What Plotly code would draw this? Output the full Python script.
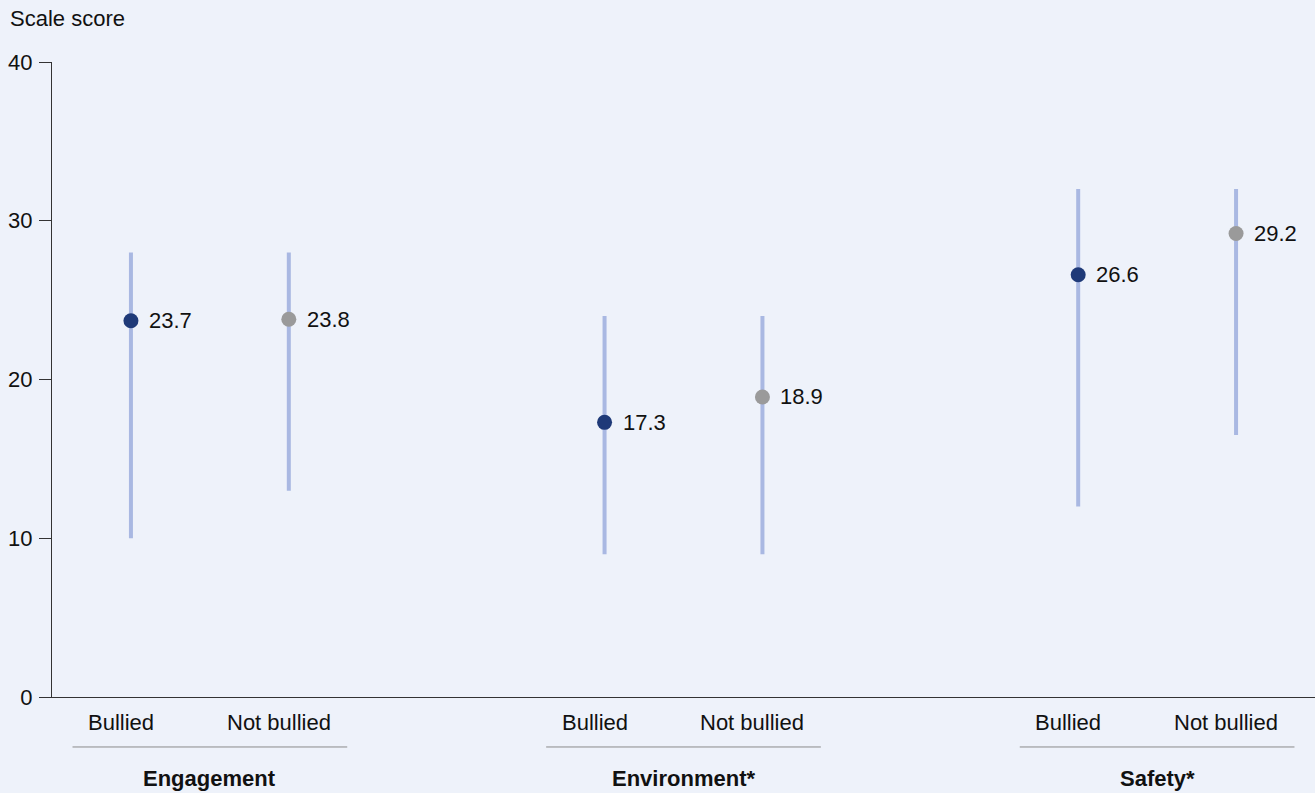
import plotly.graph_objects as go

# Scale score by bullying status, with ranges
groups = ["Engagement", "Environment*", "Safety*"]
statuses = ["Bullied", "Not bullied"]
positions = [0, 1, 3, 4, 6, 7]
status_labels = ["Bullied", "Not bullied"] * 3

means = [23.7, 23.8, 17.3, 18.9, 26.6, 29.2]
lows = [10, 13, 9, 9, 12, 16.5]
highs = [28, 28, 24, 24, 32, 32]

y_ticks = [0, 10, 20, 30, 40]

BG = "#EEF2FA"
NAVY = "#1F3A78"
GREY = "#9A9A9A"
RANGE = "#A9B8E2"
INK = "#111111"
FONT = "Liberation Sans, Arial, sans-serif"
FS = 22

fig = go.Figure()

for k, status in enumerate(statuses):
    idx = [i for i in range(len(positions)) if i % 2 == k]
    xs = [positions[i] for i in idx]
    ys = [means[i] for i in idx]
    up = [highs[i] - means[i] for i in idx]
    down = [means[i] - lows[i] for i in idx]
    fig.add_trace(go.Scatter(
        x=xs, y=ys,
        mode="markers",
        name=status,
        marker=dict(size=15, color=NAVY if k == 0 else GREY),
        error_y=dict(type="data", symmetric=False, array=up, arrayminus=down,
                     color=RANGE, thickness=4, width=0),
        cliponaxis=False,
        showlegend=False,
    ))

# Value labels to the right of each marker
for x, v in zip(positions, means):
    fig.add_annotation(x=x, y=v, xref="x", yref="y", text=f"{v:.1f}",
                       showarrow=False, xanchor="left", yanchor="middle",
                       xshift=16, font=dict(size=FS, color=INK, family=FONT))

# Category labels under the axis
for x, lab in zip(positions, status_labels):
    fig.add_annotation(x=x, y=-(722 - 697) / 635, xref="x", yref="paper", text=lab,
                       showarrow=False, xanchor="center", yanchor="middle",
                       xshift=-10, font=dict(size=FS, color=INK, family=FONT))

# Group labels and underlines beneath the category labels
for g, name in enumerate(groups):
    left = positions[2 * g]
    right = positions[2 * g + 1]
    fig.add_shape(type="line", xref="x", yref="paper",
                  x0=left - 0.37, x1=right + 0.37, y0=-0.0787, y1=-0.0787,
                  line=dict(color="#8A8A8A", width=1))
    fig.add_annotation(x=(left + right) / 2, y=-0.1276, xref="x", yref="paper",
                       text=f"<b>{name}</b>", showarrow=False,
                       font=dict(size=FS, color=INK, family=FONT),
                       xanchor="center", yanchor="middle")

fig.add_annotation(xref="paper", yref="paper", x=(8 - 52) / 1263, y=(697 - 19) / 635,
                   text="Scale score", showarrow=False,
                   font=dict(size=FS, color=INK, family=FONT),
                   xanchor="left", yanchor="middle")

fig.update_layout(
    width=1315, height=793,
    margin=dict(l=52, r=0, t=62, b=96),
    paper_bgcolor=BG, plot_bgcolor=BG,
    font=dict(family=FONT, size=FS, color=INK),
    xaxis=dict(range=[-0.5, 7.5], tickvals=positions, showticklabels=False,
               showgrid=False, zeroline=False, showline=True, linecolor="#333333",
               linewidth=1, ticks=""),
    yaxis=dict(range=[0, 40], tickvals=y_ticks, showgrid=False, zeroline=False,
               showline=True, linecolor="#333333", linewidth=1, ticks="outside",
               ticklen=12, tickcolor="#333333", ticklabelstandoff=2,
               tickfont=dict(size=FS, color=INK)),
)

fig.write_html("out.html")
